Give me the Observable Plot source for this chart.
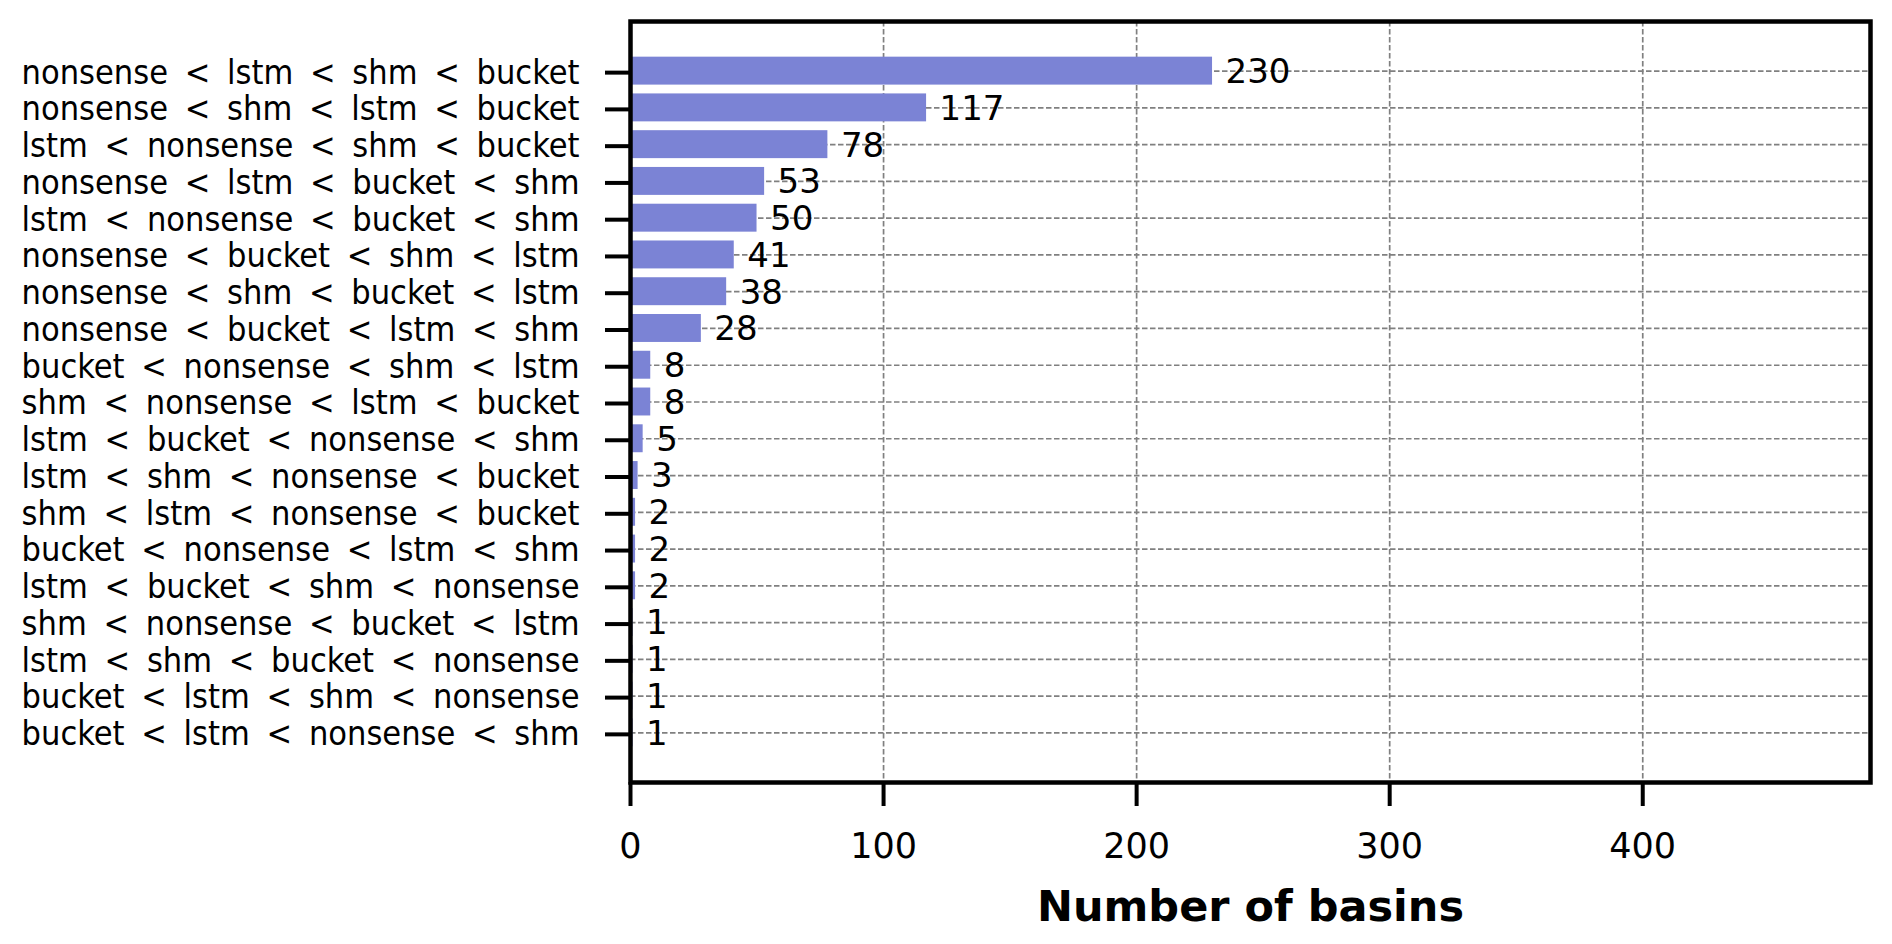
<!DOCTYPE html>
<html>
<head>
<meta charset="utf-8">
<script src="https://cdn.jsdelivr.net/npm/d3@7"></script>
<script src="https://cdn.jsdelivr.net/npm/@observablehq/plot@0.6"></script>
<style>
  html, body { margin: 0; padding: 0; background: #fff; }
  .yax text { word-spacing: 7px; font-family: "DejaVu Sans Condensed", "DejaVu Sans", sans-serif; font-stretch: condensed; }
</style>
</head>
<body>
<div id="chart"></div>
<script>
const categories = [
  "nonsense < lstm < shm < bucket",
  "nonsense < shm < lstm < bucket",
  "lstm < nonsense < shm < bucket",
  "nonsense < lstm < bucket < shm",
  "lstm < nonsense < bucket < shm",
  "nonsense < bucket < shm < lstm",
  "nonsense < shm < bucket < lstm",
  "nonsense < bucket < lstm < shm",
  "bucket < nonsense < shm < lstm",
  "shm < nonsense < lstm < bucket",
  "lstm < bucket < nonsense < shm",
  "lstm < shm < nonsense < bucket",
  "shm < lstm < nonsense < bucket",
  "bucket < nonsense < lstm < shm",
  "lstm < bucket < shm < nonsense",
  "shm < nonsense < bucket < lstm",
  "lstm < shm < bucket < nonsense",
  "bucket < lstm < shm < nonsense",
  "bucket < lstm < nonsense < shm"
];
const counts = [230, 117, 78, 53, 50, 41, 38, 28, 8, 8, 5, 3, 2, 2, 2, 1, 1, 1, 1];
const xTicks = [0, 100, 200, 300, 400];
const xLabel = "Number of basins";

const data = categories.map((c, i) => ({ order: c, n: counts[i] }));

const chart = Plot.plot({
  width: 1892,
  height: 944,
  marginLeft: 630,
  marginRight: 22,
  marginTop: 21,
  marginBottom: 162,
  style: { fontFamily: "DejaVu Sans", fontSize: "34px", color: "#000", background: "#fff" },
  x: { domain: [0, 490], ticks: xTicks },
  y: { domain: categories, paddingInner: 0.24, paddingOuter: 0.97, round: false },
  marks: [
    Plot.gridX(xTicks, { stroke: "#808080", strokeOpacity: 1, strokeWidth: 1.7, strokeDasharray: "5.5,2.5" }),
    Plot.gridY(categories, { stroke: "#808080", strokeOpacity: 1, strokeWidth: 1.7, strokeDasharray: "5.5,2.5" }),
    Plot.barX(data, { x: "n", y: "order", fill: "#7b83d5" }),
    Plot.text(data, { x: "n", y: "order", text: d => String(d.n), textAnchor: "start", dx: 13, dy: 1, fontSize: 34, fill: "#000" }),
    Plot.frame({ stroke: "#000", strokeWidth: 4.5 }),
    Plot.axisY({ tickSize: 25, tickPadding: 26, strokeWidth: 4, fontSize: 34, dy: 1.5, label: null, className: "yax" }),
    Plot.axisX(xTicks, { tickSize: 24, tickPadding: 27, strokeWidth: 4, fontSize: 35, label: null }),
    Plot.text([xLabel], { frameAnchor: "bottom", dy: 138, text: d => d, fontWeight: "bold", fontSize: 43, fill: "#000" })
  ]
});
document.getElementById("chart").appendChild(chart);
</script>
</body>
</html>
